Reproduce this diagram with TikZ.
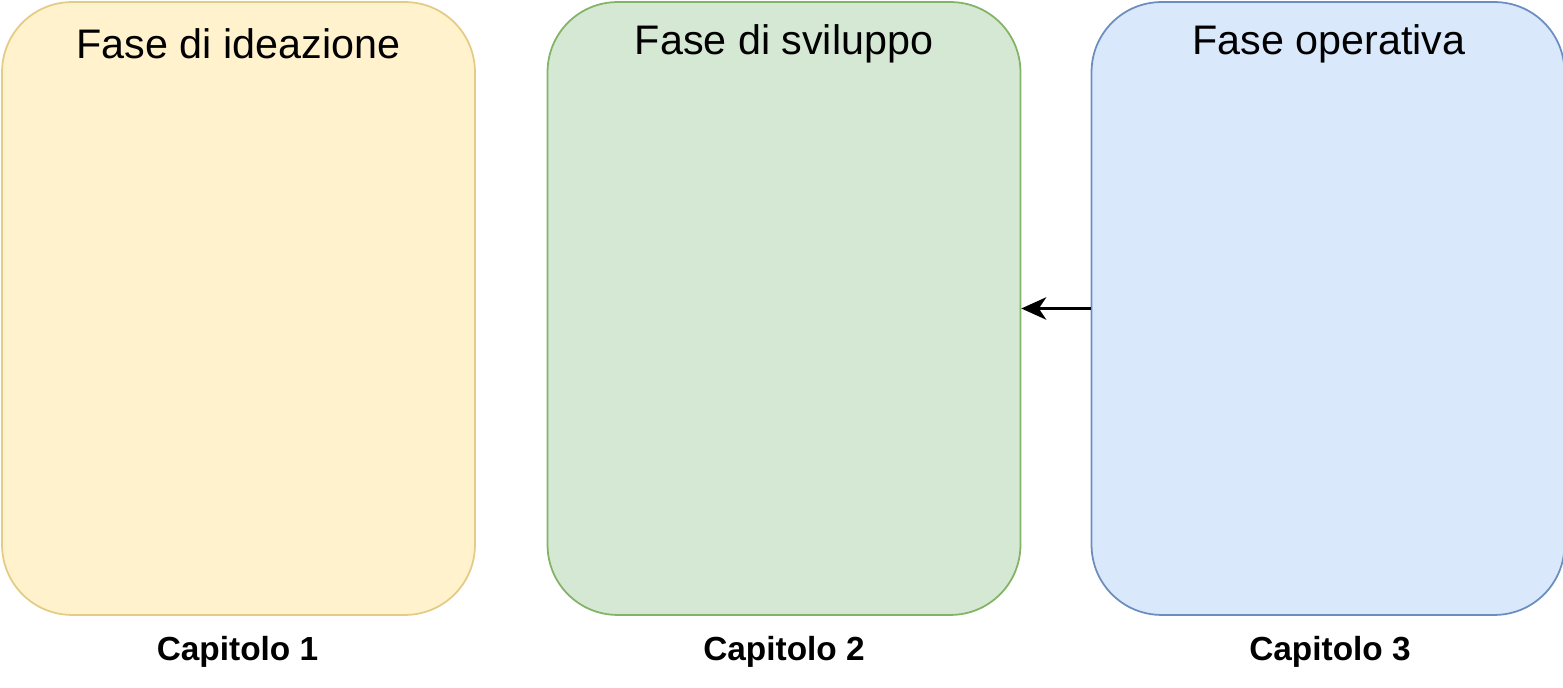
\documentclass[tikz,border=0pt]{standalone}
\usepackage{fontspec}
\setmainfont{Liberation Sans}
\usetikzlibrary{arrows.meta,positioning}
\definecolor{ideafill}{HTML}{FFF2CC}\definecolor{ideadraw}{HTML}{E3CC85}
\definecolor{svilfill}{HTML}{D5E8D4}\definecolor{svildraw}{HTML}{82B366}
\definecolor{operfill}{HTML}{DAE8FC}\definecolor{operdraw}{HTML}{6C8EBF}
\tikzset{
  phase/.style={draw=#1draw, fill=#1fill, rounded corners=1.4cm, line width=1pt,
    minimum width=9.46cm, minimum height=12.26cm, inner sep=0pt},
  phasetitle/.style={font=\fontsize{23.5}{27}\selectfont},
  chapter/.style={font=\bfseries\fontsize{19}{22}\selectfont}}
\begin{document}
\begin{tikzpicture}[x=0.02cm,y=-0.02cm]
\useasboundingbox (0,0) rectangle (1563,688);
\node[phase=idea] (idea) at (238.5,308.5) {};
\node[phase=svil] (svil) at (784,308.5) {};
\node[phase=oper] (oper) at (1328,308.5) {};
\node[phasetitle] (ideat) at (238.5,44) {Fase di ideazione};
\node[phasetitle] (svilt) at (784,44) {Fase di sviluppo};
\node[phasetitle] (opert) at (1329,44) {Fase operativa};
\node[chapter] (cap1) at (237.5,652) {Capitolo 1};
\node[chapter] (cap2) at (784,652) {Capitolo 2};
\node[chapter] (cap3) at (1330,652) {Capitolo 3};
\draw[-{Stealth[length=5mm,width=4.5mm,inset=1.5mm]}, line width=1.3pt] (oper.west) -- (svil.east);
\end{tikzpicture}
\end{document}
